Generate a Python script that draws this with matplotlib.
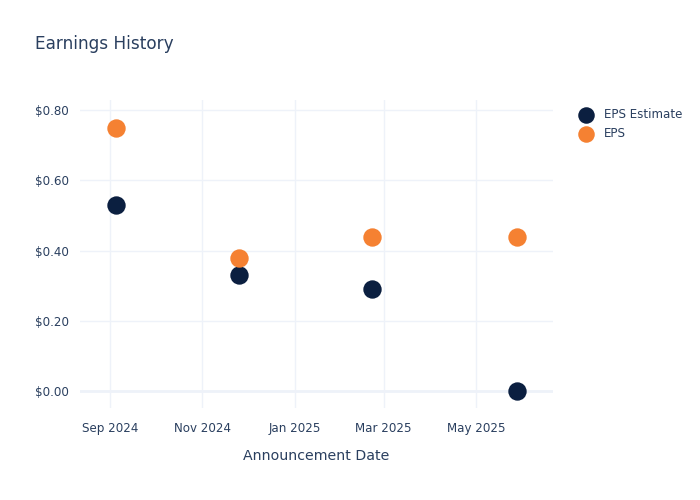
import matplotlib
matplotlib.use("Agg")
import matplotlib.pyplot as plt
import matplotlib.dates as mdates
from matplotlib.ticker import FuncFormatter
import numpy as np

# data
dates = np.array(["2024-09-05", "2024-11-25", "2025-02-21", "2025-05-28"], dtype="datetime64[D]")
eps_estimate = [0.53, 0.33, 0.29, 0.00]
eps_actual = [0.75, 0.38, 0.44, 0.44]
series_names = ["EPS Estimate", "EPS"]

TEXT = "#2a3f5f"
GRID = "#eef2f9"
NAVY = "#0b1f40"
ORANGE = "#f58132"

plt.rcParams['font.family'] = ['DejaVu Sans']

fig = plt.figure(figsize=(7, 5), dpi=100)
ax = fig.add_axes([80/700, 92/500, 473/700, 308/500])

ax.scatter(dates, eps_estimate, s=175, color=NAVY, zorder=3, linewidths=0, label=series_names[0])
ax.scatter(dates, eps_actual, s=175, color=ORANGE, zorder=3, linewidths=0, label=series_names[1])

ax.set_xlim(np.datetime64("2024-08-12"), np.datetime64("2025-06-21"))
ax.set_ylim(-0.048, 0.829)

ax.xaxis.set_major_locator(mdates.MonthLocator(bymonth=[1, 3, 5, 9, 11]))
ax.xaxis.set_major_formatter(mdates.DateFormatter("%b %Y"))
ax.set_yticks([0, 0.2, 0.4, 0.6, 0.8])
ax.yaxis.set_major_formatter(FuncFormatter(lambda v, p: f"${v:.2f}"))

for s in ax.spines.values():
    s.set_visible(False)
ax.grid(True, color=GRID, linewidth=1)
ax.axhline(0, color=GRID, linewidth=2, zorder=1)
ax.set_axisbelow(True)
ax.tick_params(length=0, colors=TEXT, labelsize=8.6)
ax.tick_params(axis="x", pad=10)
ax.tick_params(axis="y", pad=8)

ax.set_xlabel("Announcement Date", color=TEXT, fontsize=10.2, labelpad=10)

fig.text(35/700, 1 - 44/500, "Earnings History", color=TEXT, fontsize=12.2, va="center")

leg = ax.legend(loc="upper left", bbox_to_anchor=(1.035, 0.99), frameon=False,
                fontsize=8.6, labelcolor=TEXT, handletextpad=0.5, borderaxespad=0,
                labelspacing=0.55, markerscale=0.9)

fig.savefig("out.png", dpi=100, facecolor="white")
